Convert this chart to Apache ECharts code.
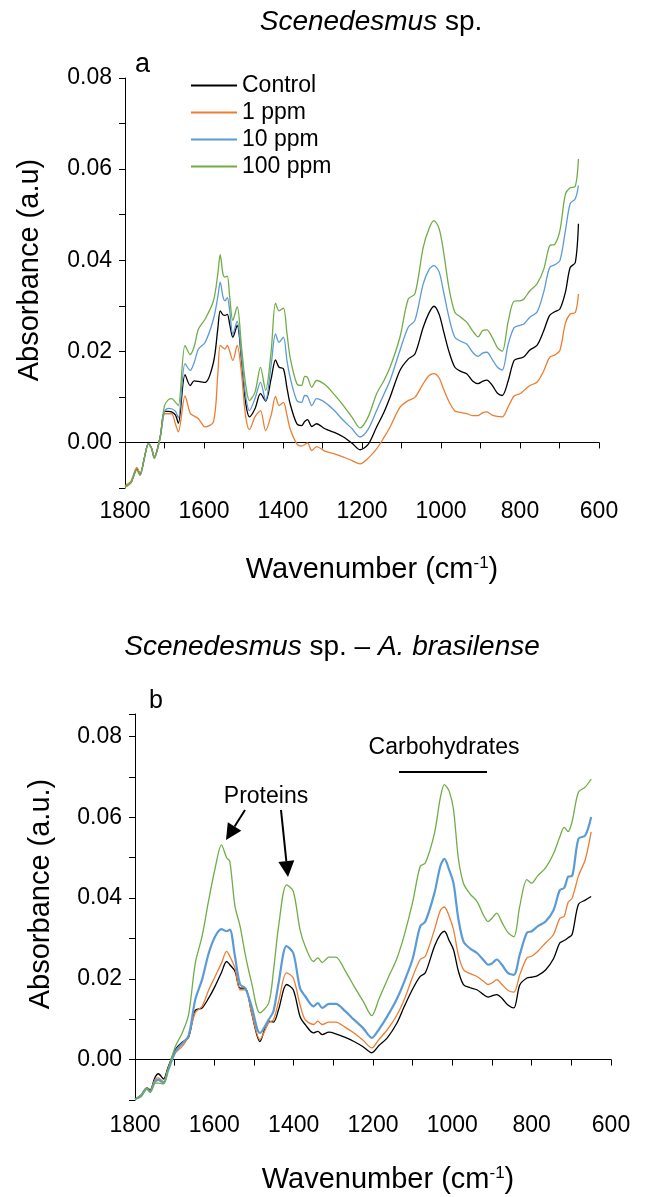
<!DOCTYPE html>
<html>
<head>
<meta charset="utf-8">
<script src="https://cdn.jsdelivr.net/npm/echarts@6/dist/echarts.min.js"></script>
<style>
  html, body { margin: 0; padding: 0; background: #fff; }
  #chart { width: 646px; height: 1197px; }
</style>
</head>
<body>
<div id="chart"></div>
<script>
// panel a: Scenedesmus sp. (wavenumber in cm-1, absorbance in a.u.)
var wnA = [
  1800, 1785, 1770, 1762, 1750, 1741, 1733, 1726, 1711, 1700,
  1690, 1682, 1672, 1665, 1648, 1635, 1625, 1614, 1597, 1576,
  1565, 1559, 1552, 1547, 1541, 1535, 1527, 1516, 1505, 1495,
  1485, 1471, 1457, 1444, 1430, 1419, 1410, 1399, 1390, 1382,
  1365, 1353, 1345, 1338, 1327, 1315, 1294, 1270, 1247, 1225,
  1205, 1185, 1163, 1145, 1129, 1104, 1083, 1066, 1045, 1030,
  1018, 1005, 994, 980, 965, 950, 935, 920, 906, 895,
  884, 870, 857, 845, 830, 815, 800, 790, 775, 757,
  740, 725, 712, 699, 685, 673, 660, 652
]
var controlA = [
  -0.0095, -0.0088, -0.0058, -0.0069, -0.003, -0.0003, -0.0012, -0.0032, 0.0012, 0.0068,
  0.0068, 0.0067, 0.006, 0.0042, 0.0149, 0.0125, 0.0135, 0.0134, 0.0132, 0.0176,
  0.025, 0.0289, 0.028, 0.0279, 0.0281, 0.026, 0.0231, 0.0257, 0.018, 0.009,
  0.0056, 0.0074, 0.0107, 0.0091, 0.014, 0.0181, 0.0165, 0.0162, 0.012, 0.0085,
  0.0041, 0.0037, 0.0046, 0.005, 0.0035, 0.0041, 0.003, 0.0022, 0.0012, -0.0002,
  -0.0016, -0.0005, 0.0034, 0.0065, 0.0099, 0.0158, 0.0183, 0.0194, 0.0253, 0.0285,
  0.0299, 0.0282, 0.0246, 0.02, 0.0165, 0.0156, 0.0151, 0.0135, 0.0129, 0.0134,
  0.0137, 0.0125, 0.0108, 0.0103, 0.0135, 0.018, 0.0185, 0.0188, 0.0203, 0.0213,
  0.0245, 0.0279, 0.0287, 0.0293, 0.033, 0.0384, 0.0395, 0.048
]
var ppm1A = [
  -0.0095, -0.0085, -0.0055, -0.0068, -0.003, -0.0003, -0.0012, -0.0032, 0.001, 0.0063,
  0.0063, 0.0063, 0.004, 0.0023, 0.0102, 0.0064, 0.0058, 0.0052, 0.0034, 0.0045,
  0.015, 0.0213, 0.0208, 0.0205, 0.0213, 0.02, 0.018, 0.0213, 0.0151, 0.006,
  0.0028, 0.0056, 0.007, 0.0026, 0.006, 0.0101, 0.0081, 0.0088, 0.006, 0.003,
  -0.0003, -0.0008, -0.0005, -0.0001, -0.0018, -0.0009, -0.0019, -0.0025, -0.0032, -0.004,
  -0.0047, -0.0035, -0.0014, 0.001, 0.0034, 0.0077, 0.0092, 0.0099, 0.0129, 0.0147,
  0.0151, 0.0142, 0.0118, 0.009, 0.0069, 0.0066, 0.0063, 0.0059, 0.0059, 0.0065,
  0.0067, 0.006, 0.0057, 0.0056, 0.0078, 0.0102, 0.0107, 0.0114, 0.0125, 0.0132,
  0.0157, 0.0187, 0.0192, 0.0202, 0.0262, 0.0282, 0.0285, 0.0326
]
var ppm10A = [
  -0.0098, -0.0088, -0.006, -0.0072, -0.003, -0.0003, -0.0012, -0.0035, 0.001, 0.0068,
  0.0075, 0.0074, 0.0068, 0.0054, 0.0173, 0.0158, 0.0175, 0.0205, 0.022, 0.0271,
  0.032, 0.0352, 0.032, 0.0311, 0.0318, 0.029, 0.0238, 0.0266, 0.0187, 0.0105,
  0.007, 0.0096, 0.0132, 0.0092, 0.017, 0.0238, 0.022, 0.0231, 0.018, 0.0143,
  0.0092, 0.0088, 0.0103, 0.0101, 0.0081, 0.0096, 0.0088, 0.007, 0.0048, 0.003,
  0.0012, 0.0028, 0.007, 0.0105, 0.0136, 0.0202, 0.0253, 0.0268, 0.0348, 0.038,
  0.0388, 0.0375, 0.0333, 0.0275, 0.0231, 0.0222, 0.0216, 0.0198, 0.0189, 0.0196,
  0.0198, 0.0182, 0.0165, 0.0159, 0.0215, 0.0252, 0.0257, 0.026, 0.0275, 0.0286,
  0.033, 0.0384, 0.039, 0.0399, 0.0465, 0.0524, 0.0535, 0.0564
]
var ppm100A = [
  -0.0098, -0.0088, -0.006, -0.0072, -0.003, -0.0003, -0.0012, -0.0035, 0.0012, 0.0081,
  0.0094, 0.0096, 0.0088, 0.0081, 0.0213, 0.0193, 0.021, 0.0249, 0.0271, 0.0311,
  0.037, 0.0412, 0.037, 0.0363, 0.0365, 0.032, 0.0268, 0.0298, 0.0209, 0.013,
  0.0092, 0.011, 0.0165, 0.0114, 0.02, 0.0306, 0.0289, 0.0295, 0.024, 0.0187,
  0.0129, 0.0125, 0.0145, 0.0143, 0.0121, 0.0136, 0.0127, 0.0105, 0.0081, 0.0055,
  0.0032, 0.0055, 0.0107, 0.0135, 0.0165, 0.0231, 0.0315, 0.0326, 0.0428, 0.047,
  0.0487, 0.047, 0.0421, 0.034, 0.0286, 0.0275, 0.0264, 0.0245, 0.0232, 0.0245,
  0.0247, 0.023, 0.0208, 0.02, 0.0265, 0.031, 0.0311, 0.0315, 0.0333, 0.0348,
  0.038, 0.0432, 0.0435, 0.0465, 0.0545, 0.0559, 0.0562, 0.0622
]

// panel b: Scenedesmus sp. - A. brasilense
var wnB = [
  1800, 1785, 1770, 1762, 1750, 1741, 1728, 1717, 1698, 1681,
  1665, 1648, 1631, 1614, 1598, 1582, 1569, 1561, 1548, 1535,
  1522, 1506, 1485, 1463, 1451, 1438, 1418, 1401, 1384, 1371,
  1350, 1339, 1328, 1311, 1294, 1270, 1248, 1225, 1203, 1185,
  1164, 1140, 1121, 1100, 1081, 1068, 1045, 1030, 1020, 1008,
  997, 985, 972, 955, 938, 920, 910, 900, 888, 875,
  860, 845, 830, 812, 800, 785, 765, 745, 729, 718,
  708, 698, 682, 665, 650
]
var controlB = [
  -0.0098, -0.0088, -0.007, -0.0075, -0.0045, -0.0035, -0.0048, -0.002, 0.0025, 0.0043,
  0.0055, 0.0122, 0.0128, 0.0153, 0.0182, 0.0216, 0.0243, 0.0235, 0.0219, 0.0177,
  0.0177, 0.0116, 0.0045, 0.0095, 0.0093, 0.0124, 0.0186, 0.0173, 0.0107, 0.0087,
  0.0066, 0.007, 0.0062, 0.0068, 0.0064, 0.0055, 0.0045, 0.0032, 0.0017, 0.0035,
  0.0054, 0.009, 0.0132, 0.0175, 0.0206, 0.0215, 0.0281, 0.031, 0.0318, 0.0295,
  0.0272, 0.022, 0.0186, 0.0178, 0.0173, 0.016, 0.0155, 0.0158, 0.0161, 0.0152,
  0.0135, 0.0128, 0.0185, 0.0202, 0.0204, 0.0208, 0.0222, 0.025, 0.0289, 0.0295,
  0.0302, 0.031, 0.0385, 0.0395, 0.0404
]
var ppm1B = [
  -0.0098, -0.0088, -0.007, -0.0078, -0.005, -0.0045, -0.0055, -0.0025, 0.0017, 0.0033,
  0.0058, 0.0117, 0.0132, 0.0173, 0.0206, 0.0239, 0.0268, 0.0256, 0.0227, 0.0173,
  0.0173, 0.0116, 0.005, 0.0091, 0.0099, 0.0144, 0.0215, 0.0202, 0.0136, 0.0099,
  0.0087, 0.0095, 0.0087, 0.0093, 0.0093, 0.008, 0.0066, 0.0048, 0.0029, 0.005,
  0.0074, 0.011, 0.0149, 0.0205, 0.0248, 0.0256, 0.0322, 0.037, 0.0378, 0.0355,
  0.0322, 0.026, 0.0223, 0.0213, 0.0206, 0.0193, 0.0186, 0.019, 0.0198, 0.0186,
  0.0172, 0.0167, 0.021, 0.0252, 0.0256, 0.0268, 0.0289, 0.031, 0.035, 0.0355,
  0.039, 0.04, 0.0455, 0.0495, 0.0564
]
var ppm10B = [
  -0.0098, -0.009, -0.0072, -0.008, -0.0055, -0.005, -0.0058, -0.0028, 0.002, 0.004,
  0.0059, 0.0149, 0.0198, 0.0264, 0.0305, 0.0323, 0.0318, 0.0322, 0.0256, 0.0186,
  0.0177, 0.0132, 0.0066, 0.0099, 0.012, 0.019, 0.0281, 0.0264, 0.0177, 0.0157,
  0.0132, 0.014, 0.0128, 0.0138, 0.0138, 0.012, 0.0099, 0.0078, 0.0054, 0.0075,
  0.0107, 0.015, 0.0194, 0.025, 0.033, 0.0342, 0.0413, 0.048, 0.0497, 0.047,
  0.0437, 0.035, 0.0293, 0.0275, 0.0264, 0.0245, 0.0235, 0.0238, 0.0248, 0.0235,
  0.0215, 0.021, 0.026, 0.0314, 0.0318, 0.033, 0.0342, 0.037, 0.042, 0.0425,
  0.0453, 0.0455, 0.0547, 0.0555, 0.0601
]
var ppm100B = [
  -0.0098, -0.0092, -0.0072, -0.008, -0.0058, -0.0058, -0.006, -0.0025, 0.0033, 0.0066,
  0.0111, 0.0239, 0.0305, 0.0396, 0.0474, 0.0532, 0.05, 0.0491, 0.038, 0.033,
  0.026, 0.019, 0.0116, 0.014, 0.0219, 0.033, 0.0433, 0.0417, 0.0322, 0.0281,
  0.0243, 0.0252, 0.0241, 0.0254, 0.0254, 0.022, 0.0182, 0.0145, 0.0109, 0.015,
  0.0198, 0.025, 0.0309, 0.039, 0.0479, 0.0487, 0.0561, 0.065, 0.0681, 0.0665,
  0.0619, 0.05, 0.0437, 0.041, 0.0392, 0.0355, 0.0342, 0.035, 0.0363, 0.034,
  0.0315, 0.0304, 0.038, 0.0446, 0.0437, 0.0455, 0.0475, 0.051, 0.0552, 0.0575,
  0.0565, 0.059, 0.0663, 0.0675, 0.0695
]

var names = ['Control', '1 ppm', '10 ppm', '100 ppm']
var colors = ['#000000', '#ED7D31', '#5B9BD5', '#70AD47']
var xTicks = [1800, 1600, 1400, 1200, 1000, 800, 600]

var FONT = 'Liberation Sans, Arial, sans-serif'

function pairs(wn, vals) {
  return wn.map(function(w, i) { return [w, vals[i]] })
}

function xAxisOf(grid, margin) {
  return {
    type: 'value', gridIndex: grid, inverse: true,
    min: 600, max: 1800, interval: 100,
    axisLine: { lineStyle: { color: '#000', width: 1 } },
    axisTick: { inside: false, length: 6, lineStyle: { color: '#000' } },
    axisLabel: {
      margin: margin, fontSize: 23, color: '#000', fontFamily: FONT,
      formatter: function(v) { return xTicks.indexOf(v) >= 0 ? String(v) : '' }
    },
    splitLine: { show: false }
  }
}

function yAxisOf(grid, max) {
  return {
    type: 'value', gridIndex: grid,
    min: -0.01, max: max, interval: 0.01,
    axisLine: { show: true, lineStyle: { color: '#000', width: 1 } },
    axisTick: { show: true, inside: false, length: 6, lineStyle: { color: '#000' } },
    axisLabel: {
      margin: 13, fontSize: 23, color: '#000', fontFamily: FONT,
      showMaxLabel: true,
      formatter: function(v) {
        var k = Math.round(v * 100)
        if (Math.abs(v * 100 - k) > 0.01) return ''
        return (k >= 0 && k % 2 === 0) ? (k / 100).toFixed(2) : ''
      }
    },
    splitLine: { show: false }
  }
}

var panelA = [controlA, ppm1A, ppm10A, ppm100A]
var panelB = [controlB, ppm1B, ppm10B, ppm100B]
var series = []
panelA.forEach(function(vals, i) {
  series.push({
    name: names[i], type: 'line', xAxisIndex: 0, yAxisIndex: 0,
    data: pairs(wnA, vals), showSymbol: false, smooth: 0.3,
    lineStyle: { color: colors[i], width: 1.3 }, itemStyle: { color: colors[i] }
  })
})
panelB.forEach(function(vals, i) {
  series.push({
    name: names[i], type: 'line', xAxisIndex: 1, yAxisIndex: 1,
    data: pairs(wnB, vals), showSymbol: false, smooth: 0.3,
    lineStyle: { color: colors[i], width: i === 2 ? 2.2 : 1.3 }, itemStyle: { color: colors[i] }
  })
})

function text(x, y, str, size, opts) {
  opts = opts || {}
  return {
    type: 'text', x: x, y: y, rotation: opts.rotation || 0, z: 10,
    style: {
      text: str, fill: '#000', align: opts.align || 'center', verticalAlign: 'middle',
      font: (opts.italic ? 'italic ' : '') + size + 'px ' + FONT,
      rich: opts.rich
    }
  }
}

function arrow(x1, y1, x2, y2) {
  var dx = x2 - x1, dy = y2 - y1
  var len = Math.sqrt(dx * dx + dy * dy)
  var ux = dx / len, uy = dy / len
  var bx = x2 - ux * 16, by = y2 - uy * 16
  return [
    { type: 'line', z: 10, shape: { x1: x1, y1: y1, x2: bx, y2: by }, style: { stroke: '#000', lineWidth: 2 } },
    { type: 'polygon', z: 10, shape: { points: [[x2, y2], [bx - uy * 8, by + ux * 8], [bx + uy * 8, by - ux * 8]] }, style: { fill: '#000' } }
  ]
}

var italicRich = { i: { fontStyle: 'italic', fontSize: 28, fontFamily: FONT }, n: { fontSize: 28, fontFamily: FONT } }
var supRich = {
  n: { fontSize: 29, fontFamily: FONT },
  s: { fontSize: 17, fontFamily: FONT, verticalAlign: 'top', padding: [0, 0, 14, 0] }
}

var graphics = [
  text(371, 22, '{i|Scenedesmus}{n| sp.}', 28, { rich: italicRich }),
  text(332, 647, '{i|Scenedesmus}{n| sp. – }{i|A. brasilense}', 28, { rich: italicRich }),
  text(135, 65, 'a', 27, { align: 'left' }),
  text(149, 701, 'b', 25, { align: 'left' }),
  text(30, 270, 'Absorbance (a.u)', 29, { rotation: Math.PI / 2 }),
  text(41, 894, 'Absorbance (a.u.)', 29, { rotation: Math.PI / 2 }),
  text(372, 570, '{n|Wavenumber (cm}{s|-1}{n|)}', 29, { rich: supRich }),
  text(388, 1180, '{n|Wavenumber (cm}{s|-1}{n|)}', 29, { rich: supRich }),
  text(266, 797, 'Proteins', 23),
  text(444, 748, 'Carbohydrates', 23),
  { type: 'line', z: 10, shape: { x1: 399, y1: 772, x2: 487, y2: 772 }, style: { stroke: '#000', lineWidth: 2 } }
].concat(arrow(245, 810, 226, 840)).concat(arrow(281, 810, 288, 877))

var chart = echarts.init(document.getElementById('chart'), null, { renderer: 'canvas' })
chart.setOption({
  backgroundColor: '#fff',
  animation: false,
  grid: [
    { left: 125, top: 78, width: 474, height: 410 },
    { left: 135, top: 714, width: 476, height: 386 }
  ],
  legend: {
    orient: 'vertical', left: 186, top: 69,
    icon: 'rect', itemWidth: 46, itemHeight: 2, itemGap: 4,
    textStyle: { fontSize: 23, lineHeight: 23, color: '#000', fontFamily: FONT },
    data: names
  },
  xAxis: [xAxisOf(0, 12), xAxisOf(1, 14)],
  yAxis: [yAxisOf(0, 0.08), yAxisOf(1, 0.0856)],
  series: series,
  graphic: graphics
})
</script>
</body>
</html>
